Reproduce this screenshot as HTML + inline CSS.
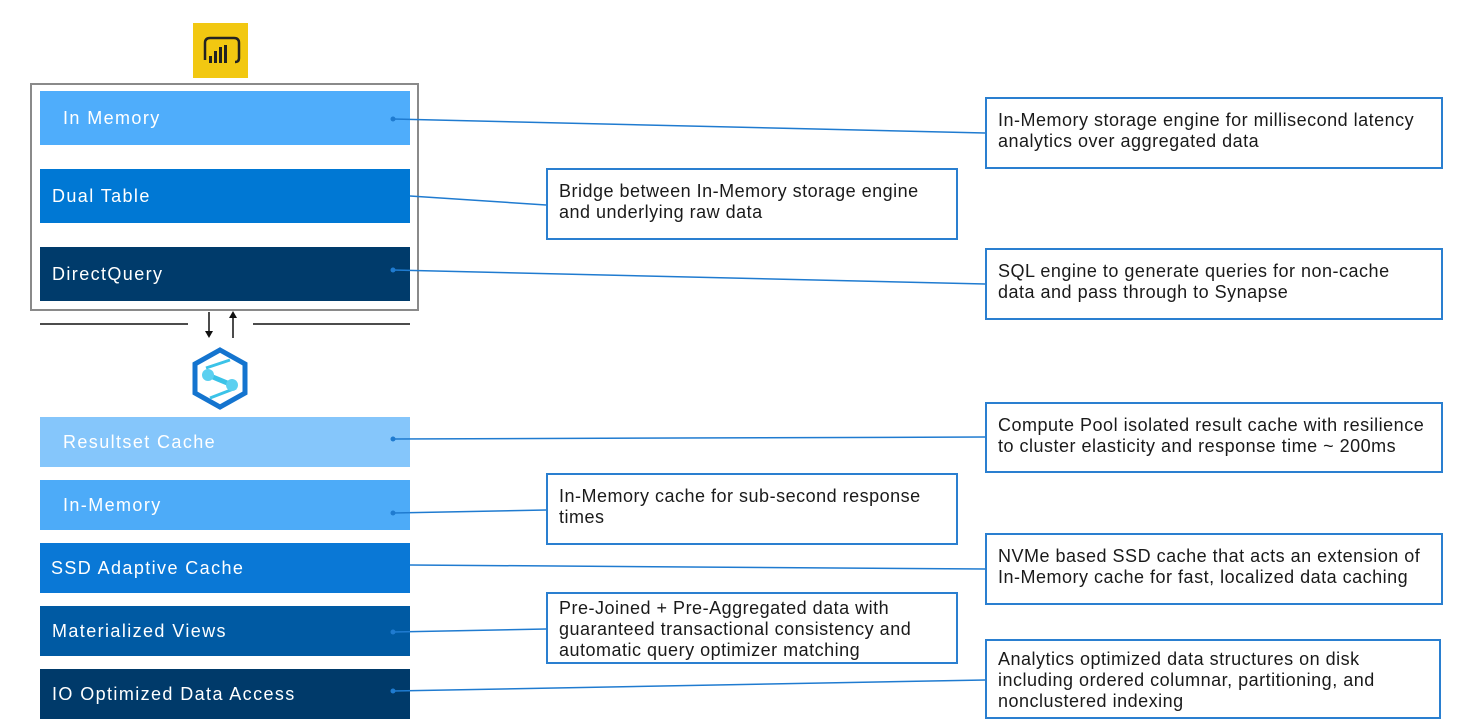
<!DOCTYPE html>
<html><head><meta charset="utf-8"><style>
body{margin:0;width:1479px;height:722px;background:#fff;position:relative;overflow:hidden;font-family:"Liberation Sans",sans-serif}
.bar{position:absolute;left:40px;width:370px;color:#fff;font-size:18px;letter-spacing:1.4px;display:flex;align-items:center;box-sizing:border-box}
.box{position:absolute;border:2px solid #2a7fd0;box-sizing:border-box;color:#1a1a1a;font-size:18px;letter-spacing:0.5px;line-height:21px;padding:11px 6px 0 11px;white-space:nowrap}
svg{position:absolute;left:0;top:0}
</style></head><body>
<div style="position:absolute;left:30px;top:83px;width:389px;height:228px;border:2px solid #8a8a8a;box-sizing:border-box"></div>
<div style="position:absolute;left:193px;top:23px;width:55px;height:55px;background:#f2c811"></div>
<div class="bar" style="top:91px;height:54px;background:#4fadfb;padding-left:23px">In Memory</div>
<div class="bar" style="top:169px;height:54px;background:#0078d4;padding-left:12px">Dual Table</div>
<div class="bar" style="top:247px;height:54px;background:#003b6b;padding-left:12px">DirectQuery</div>
<div class="bar" style="top:417px;height:50px;background:#85c6fb;padding-left:23px">Resultset Cache</div>
<div class="bar" style="top:480px;height:50px;background:#4dabf8;padding-left:23px">In-Memory</div>
<div class="bar" style="top:543px;height:50px;background:#0a78d6;padding-left:11px">SSD Adaptive Cache</div>
<div class="bar" style="top:606px;height:50px;background:#005aa3;padding-left:12px">Materialized Views</div>
<div class="bar" style="top:669px;height:50px;background:#003a6a;padding-left:12px">IO Optimized Data Access</div>

<div class="box" style="left:985px;top:97px;width:458px;height:72px">In-Memory storage engine for millisecond latency<br>analytics over aggregated data</div>
<div class="box" style="left:546px;top:168px;width:412px;height:72px">Bridge between In-Memory storage engine<br>and underlying raw data</div>
<div class="box" style="left:985px;top:248px;width:458px;height:72px">SQL engine to generate queries for non-cache<br>data and pass through to Synapse</div>
<div class="box" style="left:985px;top:402px;width:458px;height:71px">Compute Pool isolated result cache with resilience<br>to cluster elasticity and response time ~ 200ms</div>
<div class="box" style="left:546px;top:473px;width:412px;height:72px">In-Memory cache for sub-second response<br>times</div>
<div class="box" style="left:985px;top:533px;width:458px;height:72px">NVMe based SSD cache that acts an extension of<br>In-Memory cache for fast, localized data caching</div>
<div class="box" style="left:546px;top:592px;width:412px;height:72px;padding-top:4px">Pre-Joined + Pre-Aggregated data with<br>guaranteed transactional consistency and<br>automatic query optimizer matching</div>
<div class="box" style="left:985px;top:639px;width:456px;height:80px;padding-top:8px">Analytics optimized data structures on disk<br>including ordered columnar, partitioning, and<br>nonclustered indexing</div>

<svg width="1479" height="722">
<g stroke="#1f7bd0" stroke-width="1.5" fill="none">
<line x1="393" y1="119" x2="985" y2="133"/>
<line x1="410" y1="196" x2="546" y2="205"/>
<line x1="393" y1="270" x2="985" y2="284"/>
<line x1="393" y1="439" x2="985" y2="437"/>
<line x1="393" y1="513" x2="546" y2="510"/>
<line x1="410" y1="565" x2="985" y2="569"/>
<line x1="393" y1="632" x2="546" y2="629"/>
<line x1="393" y1="691" x2="985" y2="680"/>
</g>
<g fill="#1f7bd0">
<circle cx="393" cy="119" r="2.5"/><circle cx="393" cy="270" r="2.5"/><circle cx="393" cy="439" r="2.5"/>
<circle cx="393" cy="513" r="2.5"/><circle cx="393" cy="632" r="2.5"/><circle cx="393" cy="691" r="2.5"/>
</g>
<g stroke="#111" stroke-width="1.5">
<line x1="40" y1="324" x2="188" y2="324"/><line x1="253" y1="324" x2="410" y2="324"/>
<line x1="209" y1="312" x2="209" y2="333"/><line x1="233" y1="316" x2="233" y2="338"/>
</g>
<polygon points="205,331 213,331 209,338" fill="#111"/>
<polygon points="229,318 237,318 233,311" fill="#111"/>
<g fill="none" stroke="#222" stroke-width="2.5">
<path d="M205 60 V43 Q205 38 210 38 H234 Q239 38 239 43 V58 Q239 62 235 62"/>
</g>
<g fill="#222"><rect x="209" y="56" width="3" height="7"/><rect x="214" y="51" width="3" height="12"/><rect x="219" y="47" width="3" height="16"/><rect x="224" y="45" width="3" height="18"/></g>
<polygon points="220,350 245,364 245,393 220,407 195,393 195,364" fill="none" stroke="#1474cf" stroke-width="5"/>
<path d="M208 375 L232 385" stroke="#3bc3e8" stroke-width="5"/>
<path d="M206 368 L230 360" stroke="#3bc3e8" stroke-width="3"/>
<path d="M210 398 L236 388" stroke="#3bc3e8" stroke-width="3"/>
<circle cx="208" cy="375" r="6" fill="#5cd0f0"/><circle cx="232" cy="385" r="6" fill="#5cd0f0"/>
</svg>
</body></html>
